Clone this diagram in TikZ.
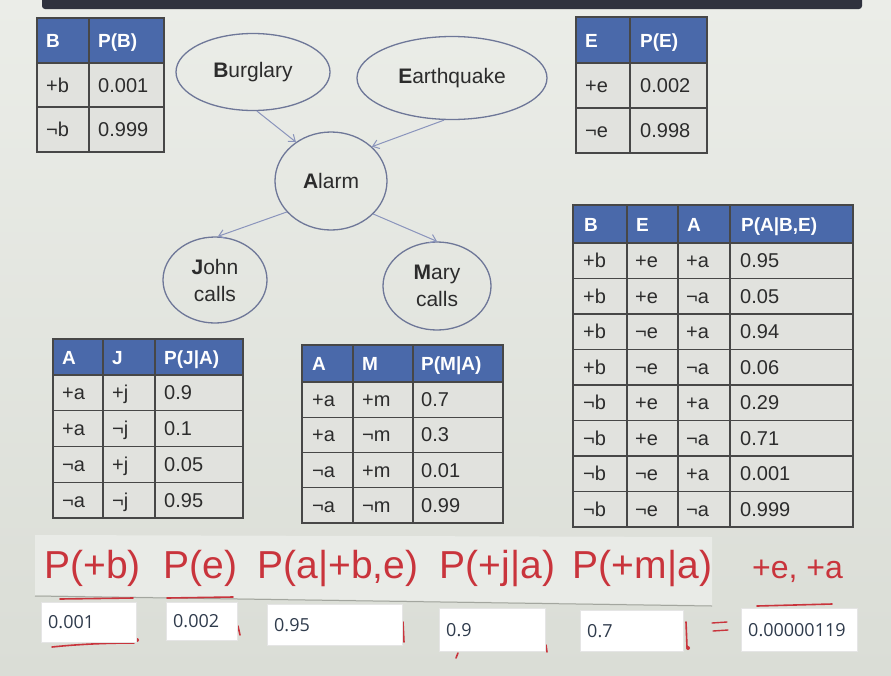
\documentclass[tikz,border=0pt]{standalone}
\usepackage{fontspec}
\setmainfont{Liberation Sans}
\newfontfamily\boxfont{Open Sans}
\usetikzlibrary{arrows.meta,shapes.geometric}
\definecolor{bgtop}{HTML}{EBEDE8}
\definecolor{bgbot}{HTML}{DADDD6}
\definecolor{barc}{HTML}{2F323E}
\definecolor{hdr}{HTML}{4A69AA}
\definecolor{cellc}{HTML}{E1E2DE}
\definecolor{gridc}{HTML}{474747}
\definecolor{edgec}{HTML}{8A94BC}
\definecolor{nodec}{HTML}{6E7798}
\definecolor{txt}{HTML}{2C2C2C}
\definecolor{inkred}{HTML}{C9343C}
\definecolor{bandc}{HTML}{E9EBE7}
\definecolor{bandedge}{HTML}{A3A69F}
\definecolor{anstxt}{HTML}{2F3B4C}
\tikzset{
  hdrtxt/.style={anchor=west, text=white, font=\fontsize{19}{22}\selectfont\bfseries, inner sep=0pt, text height=14pt, text depth=0pt},
  celltxt/.style={anchor=west, text=txt, font=\fontsize{20}{22}\selectfont, inner sep=0pt, text height=14pt, text depth=0pt},
  tgrid/.style={draw=gridc, line width=1.3pt},
  bnode/.style={ellipse, draw=nodec, line width=1.3pt, text=txt, font=\fontsize{21}{27}\selectfont, align=center, inner sep=0pt},
  bedge/.style={draw=edgec, line width=1pt, -{Straight Barb[length=6pt,width=9pt]}},
  hand/.style={anchor=base, text=inkred, font=\fontsize{39}{44}\selectfont, inner sep=0pt},
  ansbox/.style={fill=white, draw=black!10, line width=0.4pt, anchor=north west, inner xsep=7pt, inner ysep=0pt, text=anstxt, font=\boxfont\fontsize{18}{20}\selectfont, align=left},
  redmark/.style={draw=inkred, line width=1.6pt, line cap=round}
}
\begin{document}
\begin{tikzpicture}[x=1pt,y=-1pt]
\path[use as bounding box] (0,0) rectangle (891,675);
\shade[top color=bgtop, bottom color=bgbot] (0,0) rectangle (891,675);
\fill[barc, rounded corners=3pt] (42,-6) rectangle (862,9);

% ---------- Table P(B)
\fill[cellc] (37,63) rectangle (164,152);
\fill[hdr] (37,18) rectangle (164,63);
\draw[tgrid] (37,63) -- (164,63) (37,107) -- (164,107) (89,18) -- (89,152);
\draw[tgrid] (37,18) rectangle (164,152);
\node[hdrtxt] (tb-h1) at (46,40.5) {B};
\node[hdrtxt] (tb-h2) at (98,40.5) {P(B)};
\node[celltxt] (tb-11) at (46,85) {+b};
\node[celltxt] (tb-12) at (98,85) {0.001};
\node[celltxt] (tb-21) at (46,129.5) {¬b};
\node[celltxt] (tb-22) at (98,129.5) {0.999};

% ---------- Table P(E)
\fill[cellc] (576,63) rectangle (707,153);
\fill[hdr] (576,17) rectangle (707,63);
\draw[tgrid] (576,63) -- (707,63) (576,108) -- (707,108) (630,17) -- (630,153);
\draw[tgrid] (576,17) rectangle (707,153);
\node[hdrtxt] (te-h1) at (585,40) {E};
\node[hdrtxt] (te-h2) at (640,40) {P(E)};
\node[celltxt] (te-11) at (585,85.5) {+e};
\node[celltxt] (te-12) at (640,85.5) {0.002};
\node[celltxt] (te-21) at (585,130.5) {¬e};
\node[celltxt] (te-22) at (640,130.5) {0.998};

% ---------- Table P(A|B,E)
\fill[cellc] (573,243) rectangle (853,527);
\fill[hdr] (573,205) rectangle (853,243);
\draw[tgrid] (573,243) -- (853,243);
\foreach \i in {1,...,7} \draw[tgrid] (573,{243+35.5*\i}) -- (853,{243+35.5*\i});
\draw[tgrid] (627,205) -- (627,527) (678,205) -- (678,527) (730,205) -- (730,527);
\draw[tgrid] (573,205) rectangle (853,527);
\node[hdrtxt] (ta-h1) at (584,224) {B};
\node[hdrtxt] (ta-h2) at (636,224) {E};
\node[hdrtxt] (ta-h3) at (687,224) {A};
\node[hdrtxt] (ta-h4) at (741,224) {P(A|B,E)};
\foreach \b/\e/\a/\p [count=\i] in {+b/+e/+a/0.95, +b/+e/¬a/0.05, +b/¬e/+a/0.94, +b/¬e/¬a/0.06, ¬b/+e/+a/0.29, ¬b/+e/¬a/0.71, ¬b/¬e/+a/0.001, ¬b/¬e/¬a/0.999}{
  \pgfmathsetmacro\yc{243+35.5*(\i-0.5)}
  \node[celltxt] (ta-\i-1) at (583,\yc) {\b};
  \node[celltxt] (ta-\i-2) at (635,\yc) {\e};
  \node[celltxt] (ta-\i-3) at (686,\yc) {\a};
  \node[celltxt] (ta-\i-4) at (740,\yc) {\p};
}

% ---------- Table P(J|A)
\fill[cellc] (53,375) rectangle (243,518);
\fill[hdr] (53,339) rectangle (243,375);
\foreach \i in {0,...,3} \draw[tgrid] (53,{375+35.75*\i}) -- (243,{375+35.75*\i});
\draw[tgrid] (103,339) -- (103,518) (155,339) -- (155,518);
\draw[tgrid] (53,339) rectangle (243,518);
\node[hdrtxt] (tj-h1) at (62,357) {A};
\node[hdrtxt] (tj-h2) at (112,357) {J};
\node[hdrtxt] (tj-h3) at (164,357) {P(J|A)};
\foreach \a/\j/\p [count=\i] in {+a/+j/0.9, +a/¬j/0.1, ¬a/+j/0.05, ¬a/¬j/0.95}{
  \pgfmathsetmacro\yc{375+35.75*(\i-0.5)}
  \node[celltxt] (tj-\i-1) at (62,\yc) {\a};
  \node[celltxt] (tj-\i-2) at (112,\yc) {\j};
  \node[celltxt] (tj-\i-3) at (164,\yc) {\p};
}

% ---------- Table P(M|A)
\fill[cellc] (302,382) rectangle (503,523);
\fill[hdr] (302,345) rectangle (503,382);
\foreach \i in {0,...,3} \draw[tgrid] (302,{382+35.25*\i}) -- (503,{382+35.25*\i});
\draw[tgrid] (353,345) -- (353,523) (413,345) -- (413,523);
\draw[tgrid] (302,345) rectangle (503,523);
\node[hdrtxt] (tm-h1) at (312,363.5) {A};
\node[hdrtxt] (tm-h2) at (362,363.5) {M};
\node[hdrtxt] (tm-h3) at (421,363.5) {P(M|A)};
\foreach \a/\m/\p [count=\i] in {+a/+m/0.7, +a/¬m/0.3, ¬a/+m/0.01, ¬a/¬m/0.99}{
  \pgfmathsetmacro\yc{382+35.25*(\i-0.5)}
  \node[celltxt] (tm-\i-1) at (312,\yc) {\a};
  \node[celltxt] (tm-\i-2) at (362,\yc) {\m};
  \node[celltxt] (tm-\i-3) at (421,\yc) {\p};
}

% ---------- Bayes net
\node[bnode, minimum width=154pt, minimum height=77pt] (burglary) at (253,72) {\textbf{B}urglary};
\node[bnode, minimum width=190pt, minimum height=83pt] (earthquake) at (452,78) {\textbf{E}arthquake};
\node[bnode, minimum width=112pt, minimum height=98pt] (alarm) at (331,181) {\textbf{A}larm};
\node[bnode, minimum width=104pt, minimum height=86pt] (john) at (215,280) {\textbf{J}ohn\\calls};
\node[bnode, minimum width=108pt, minimum height=88pt] (mary) at (437,286) {\textbf{M}ary\\calls};
\draw[bedge] ([xshift=4pt]burglary.south) -- (alarm.132);
\draw[bedge] ([xshift=-8pt]earthquake.south) -- (alarm.40);
\draw[bedge] (alarm.215) -- ([xshift=3pt]john.north);
\draw[bedge] (alarm.322) -- (mary.north);

% ---------- handwritten band
\fill[bandc] (35,535) -- (712,537) -- (712,605) -- (35,595) -- cycle;
\draw[bandedge, line width=1pt] (35,596) -- (712,606);
\node[hand] (f1) at (92.5,578) {P(+b)};
\node[hand] (f2) at (200.5,578) {P(e)};
\node[hand] (f3) at (338,578) {P(a|+b,e)};
\node[hand] (f4) at (497.5,578) {P(+j|a)};
\node[hand] (f5) at (642.5,578) {P(+m|a)};
\node[hand, font=\fontsize{32}{36}\selectfont] (f6) at (797.5,578) {+e, +a};

% ---------- red underline marks
\draw[redmark] (60,599) -- (133,598);
\draw[redmark] (167,598) -- (233,597);
\draw[redmark] (757,606) -- (832,604);
\draw[redmark] (52,647) .. controls (80,644) and (110,643) .. (134,643);
\fill[inkred] (137,640) circle (2pt);
\draw[redmark] (238,626) -- (240,635);
\draw[redmark] (403,622) -- (404,642);
\draw[redmark] (546,645) -- (547,652);
\draw[redmark] (458,653) -- (456,658);
\draw[redmark] (686,622) -- (687,647);
\fill[inkred] (688,648) circle (2pt);
\draw[redmark, line width=1.4pt] (712,623) -- (727,622) (713,631) -- (728,630);

% ---------- answer boxes
\node[ansbox, text width=81pt, minimum height=40pt] (v1) at (41,602) {0.001};
\node[ansbox, text width=57pt, minimum height=38pt] (v2) at (166,602) {0.002};
\node[ansbox, text width=121pt, minimum height=41pt] (v3) at (267,604) {0.95};
\node[ansbox, text width=92pt, minimum height=43pt] (v4) at (439,608) {0.9};
\node[ansbox, text width=89pt, minimum height=41pt] (v5) at (580,610) {0.7};
\node[ansbox, text width=102pt, minimum height=43pt] (v6) at (741,608) {0.00000119};
\end{tikzpicture}
\end{document}
